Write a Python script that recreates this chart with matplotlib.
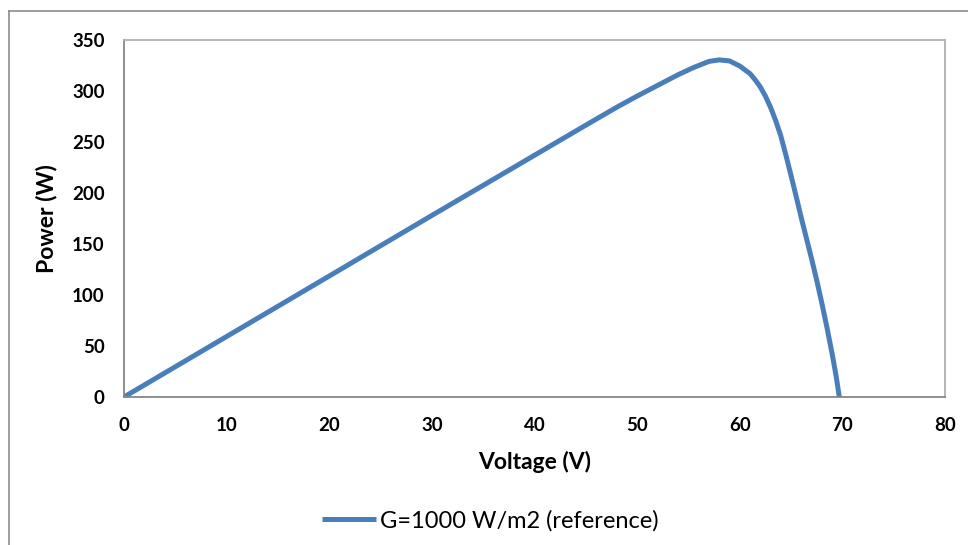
import matplotlib
matplotlib.use("Agg")
import matplotlib.pyplot as plt
from matplotlib.lines import Line2D

# values
voltage = [0, 10, 20, 30, 40, 45, 48, 50, 52, 54, 55.5, 57, 58, 59, 60, 61,
           61.5, 62, 62.5, 63, 63.5, 64, 64.5, 65, 65.5, 66, 66.5, 67, 67.5,
           68, 68.5, 69, 69.4, 69.7]
power = [0, 59.3, 118.6, 178, 237, 266.5, 284, 295, 305.5, 316, 323, 329, 330.5,
         329.5, 324.5, 317, 311, 304, 295, 284, 271, 256, 237, 217, 196.5, 175.5,
         155.5, 135.5, 114.5, 92, 68, 42.5, 20, 0]
series_name = "G=1000 W/m2 (reference)"
x_ticks = [0, 10, 20, 30, 40, 50, 60, 70, 80]
y_ticks = [0, 50, 100, 150, 200, 250, 300, 350]

W, H = 968, 545
plt.rcParams['font.family'] = ['Lato', 'DejaVu Sans']

fig = plt.figure(figsize=(W / 100, H / 100), dpi=100)
ax = fig.add_axes([124 / W, 1 - 397 / H, (945 - 124) / W, (397 - 40) / H])

ax.plot(voltage, power, color="#4a7ebb", lw=3.6, solid_capstyle="butt",
        solid_joinstyle="round", label=series_name)

ax.set_xlim(0, 80)
ax.set_ylim(0, 350)
ax.set_xticks(x_ticks)
ax.set_yticks(y_ticks)
ax.tick_params(length=0, labelsize=13.5)
ax.tick_params(axis="y", pad=14)
ax.tick_params(axis="x", pad=14.5)
for lab in ax.get_xticklabels() + ax.get_yticklabels():
    lab.set_fontweight("bold")

for s in ax.spines.values():
    s.set_color("#b0b0b0")
    s.set_linewidth(1.3)
ax.spines["left"].set_color("#868686")
ax.spines["bottom"].set_color("#868686")

ax.set_xlabel("Voltage (V)", fontsize=16.5, fontweight="bold")
ax.set_ylabel("Power (W)", fontsize=16.5, fontweight="bold")
ax.xaxis.set_label_coords(0.5, -0.182)
ax.yaxis.set_label_coords(-0.095, 0.5)
ax.xaxis.label.set_va("center")
ax.yaxis.label.set_va("center")

# outer chart border (only left and top edges visible)
fig.add_artist(Line2D([9 / W, 9 / W], [0, 1 - 11 / H], color="#8c8c8c", lw=1.2))
fig.add_artist(Line2D([9 / W, 1], [1 - 11 / H, 1 - 11 / H], color="#8c8c8c", lw=1.2))

fig.legend(loc="center", bbox_to_anchor=(490 / W, 1 - 521 / H), frameon=False,
           fontsize=17, handlelength=2.3, handletextpad=0.15)

fig.savefig("out.png", dpi=100)
